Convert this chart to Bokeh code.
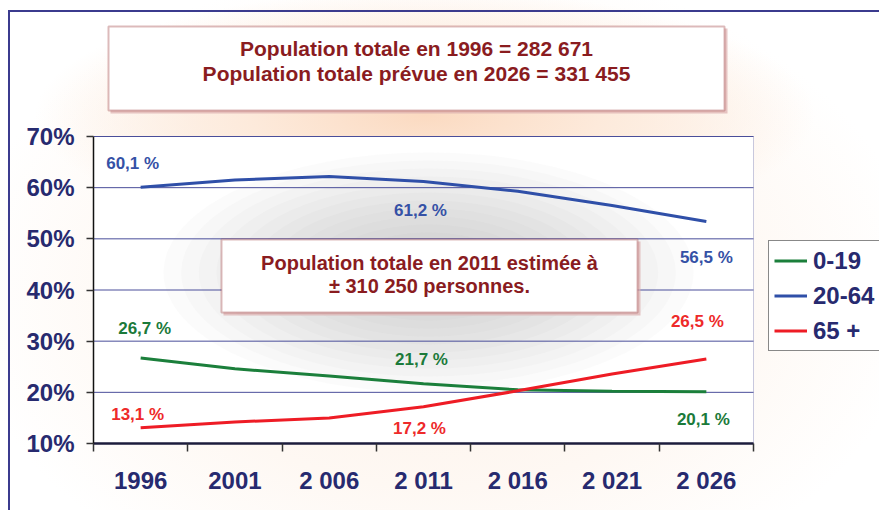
from bokeh.plotting import figure
from bokeh.models import (Range1d, FixedTicker, BoxAnnotation, Label, LabelSet,
                          ColumnDataSource, Legend, LegendItem)
from bokeh.embed import file_html
from bokeh.resources import INLINE
from bokeh.core.properties import value

# ---------------- data ----------------
years = ["1996", "2001", "2 006", "2 011", "2 016", "2 021", "2 026"]
series_names = ["0-19", "20-64", "65 +"]
vals_0_19 = [26.7, 24.6, 23.2, 21.7, 20.5, 20.2, 20.1]
vals_20_64 = [60.1, 61.5, 62.2, 61.2, 59.3, 56.5, 53.4]
vals_65 = [13.1, 14.2, 15.0, 17.2, 20.3, 23.6, 26.5]
y_ticks = [10, 20, 30, 40, 50, 60, 70]

title_lines = ["Population totale en 1996 = 282 671",
               "Population totale prévue en 2026 = 331 455"]
note_lines = ["Population totale en 2011 estimée à",
              "± 310 250 personnes."]

label_series = [1, 1, 1, 0, 0, 0, 2, 2, 2]
label_index = [0, 3, 6, 0, 3, 6, 0, 3, 6]
label_text = ["60,1 %", "61,2 %", "56,5 %",
              "26,7 %", "21,7 %", "20,1 %",
              "13,1 %", "17,2 %", "26,5 %"]

# ---------------- style / layout ----------------
FONT = "Liberation Sans"
NAVY = "#272a6f"
DARKRED = "#8a1c1f"
GRID = "#4a4e9a"
line_colors = ["#1b7f3b", "#2f4fa8", "#ee1c25"]
label_colors = ["#1b7a3a", "#3551a6", "#ee2a2a"]
label_dx = [-8, -3, 0, 4, -2, -3, -3, -4, -9]
label_dy = [24, -29, -36, 30, 24, -28, 13, -22, 38]

W, H = 879, 510
# plot box in page pixels
BOX_L, BOX_R, BOX_T, BOX_B = 93, 753, 136, 443
NX = len(years)
Y0, Y1 = y_ticks[0], y_ticks[-1]
PX_PER_X = (BOX_R - BOX_L) / NX
PX_PER_Y = (BOX_B - BOX_T) / (Y1 - Y0)

def xd(px):
    return (px - BOX_L) / PX_PER_X

def yd(py):
    return Y0 + (BOX_B - py) / PX_PER_Y

xs = [i + 0.5 for i in range(NX)]
all_vals = [vals_0_19, vals_20_64, vals_65]

bg_css = ",".join([
    "linear-gradient(#3b3b8e,#3b3b8e) 8px 10px / 2px 700px no-repeat",
    "linear-gradient(#3b3b8e,#3b3b8e) 8px 10px / 1200px 2px no-repeat",
    "radial-gradient(ellipse 390px 125px at 425px 115px, #fbdac1 0%, #fdeadb 45%, rgba(255,255,255,0) 100%)",
    "radial-gradient(ellipse 480px 330px at 440px 290px, #fdf1e7 0%, #fef8f3 60%, rgba(255,255,255,0) 100%)",
    "#ffffff",
])

# the frame spans the canvas above/right of the plot box so that the
# annotations outside the box are not clipped
p = figure(width=W, height=H, x_range=Range1d(0, xd(W)),
           y_range=Range1d(Y0, yd(0)),
           min_border_left=BOX_L, min_border_right=0,
           min_border_top=0, min_border_bottom=H - BOX_B,
           output_backend="svg", toolbar_location=None, title_location=None,
           styles={"background": bg_css})
p.background_fill_color = None
p.border_fill_color = None
p.outline_line_color = None
p.xgrid.visible = False
p.ygrid.visible = False

# white plot box with right border
p.add_layout(BoxAnnotation(left=0, right=NX, bottom=Y0, top=Y1,
                           fill_color="white", fill_alpha=1.0,
                           line_color=GRID, line_width=1, level="image"))

# grey glow inside the plot box
n = 15
cx, cy = xd(428), yd(272)
for i in range(n):
    f = 1 - i / n
    r = p.ellipse(x=[cx], y=[cy], width=[530 * f / PX_PER_X],
                  height=[240 * f / PX_PER_Y],
                  fill_color="#999999", fill_alpha=0.038, line_color=None)
    r.level = "underlay"

# horizontal grid lines
p.segment(x0=[0] * len(y_ticks), x1=[NX] * len(y_ticks), y0=y_ticks, y1=y_ticks,
          line_color=GRID, line_width=1)

# axes
xa = p.xaxis[0]
xa.bounds = (0, NX)
xa.ticker = FixedTicker(ticks=xs, minor_ticks=list(range(NX + 1)))
xa.major_label_overrides = {x: y for x, y in zip(xs, years)}
xa.major_tick_out = 0
xa.major_tick_in = 0
xa.minor_tick_out = 8
xa.minor_tick_in = 0
xa.minor_tick_line_color = "#333333"
xa.minor_tick_line_width = 1.5
xa.axis_line_color = "#1c1c3c"
xa.axis_line_width = 2.5
xa.major_label_text_font = FONT
xa.major_label_text_font_style = "bold"
xa.major_label_text_font_size = "24px"
xa.major_label_text_color = NAVY
xa.major_label_standoff = 15

ya = p.yaxis[0]
ya.bounds = (Y0, Y1)
ya.ticker = FixedTicker(ticks=y_ticks, minor_ticks=[])
ya.major_label_overrides = {t: f"{t}%" for t in y_ticks}
ya.major_tick_out = 7
ya.major_tick_in = 0
ya.major_tick_line_color = "#333333"
ya.major_tick_line_width = 1.5
ya.axis_line_color = "#111111"
ya.axis_line_width = 1.5
ya.major_label_text_font = FONT
ya.major_label_text_font_style = "bold"
ya.major_label_text_font_size = "24px"
ya.major_label_text_color = NAVY
ya.major_label_standoff = 12

# lines
renderers = []
for vals, col in zip(all_vals, line_colors):
    r = p.line(xs, vals, line_color=col, line_width=3)
    renderers.append(r)

# data labels
src = ColumnDataSource(dict(
    x=[xs[i] for i in label_index],
    y=[all_vals[s][i] for s, i in zip(label_series, label_index)],
    text=label_text,
    color=[label_colors[s] for s in label_series],
    dx=label_dx, dy=label_dy))
p.add_layout(LabelSet(x="x", y="y", text="text", source=src,
                      x_offset="dx", y_offset="dy",
                      text_color="color", text_font=value(FONT),
                      text_font_style="bold", text_font_size="17px",
                      text_align="center", text_baseline="middle"))

def text_box(l, r, t, b, lines, line_ys, xc, size):
    p.add_layout(BoxAnnotation(left=xd(l + 2), right=xd(r + 3), top=yd(t + 2), bottom=yd(b + 3),
                               fill_color="#dcaeae", fill_alpha=0.7, line_color=None,
                               level="annotation"))
    p.add_layout(BoxAnnotation(left=xd(l), right=xd(r), top=yd(t), bottom=yd(b),
                               fill_color="white", fill_alpha=1.0,
                               line_color=DARKRED, line_width=2, level="annotation"))
    for txt, ly in zip(lines, line_ys):
        p.add_layout(Label(x=xd(xc), y=yd(ly), text=txt, text_font=FONT,
                           text_font_style="bold", text_font_size=size,
                           text_color=DARKRED, text_align="center",
                           text_baseline="middle"))

text_box(108, 724, 26, 110, title_lines, [48, 73], 416, "21px")
text_box(221, 637, 239, 312, note_lines, [262, 285], 429, "20px")

legend = Legend(items=[LegendItem(label=n_, renderers=[r])
                       for n_, r in zip(series_names, renderers)],
                location=(768 - BOX_L, BOX_B - 351))
legend.label_text_font = FONT
legend.label_text_font_style = "bold"
legend.label_text_font_size = "24px"
legend.label_text_color = NAVY
legend.glyph_width = 33
legend.glyph_height = 29
legend.label_height = 29
legend.label_standoff = 6
legend.spacing = 6
legend.padding = 5
legend.margin = 0
legend.border_line_color = "#111111"
legend.border_line_width = 1.5
legend.background_fill_color = "white"
legend.background_fill_alpha = 1.0
p.add_layout(legend)

open("out.html", "w").write(file_html(p, INLINE))
